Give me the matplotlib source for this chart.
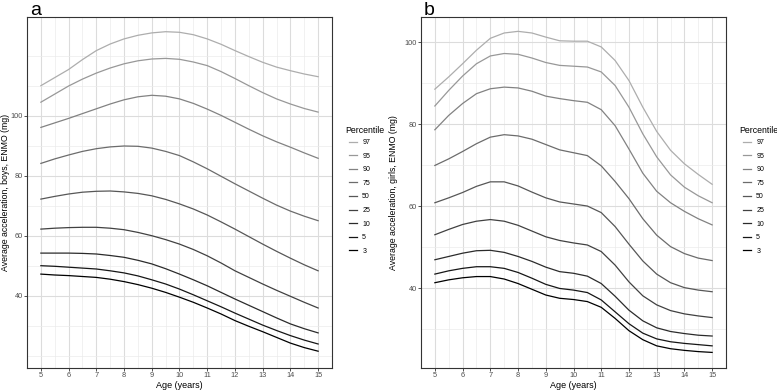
"""Boys / girls ENMO acceleration percentile curves by age (two panels)."""
import matplotlib

matplotlib.use("Agg")
import matplotlib.pyplot as plt
import numpy as np

plt.rcParams["font.family"] = ["Liberation Sans", "DejaVu Sans"]

AGE = [5.0, 5.5, 6.0, 6.5, 7.0, 7.5, 8.0, 8.5, 9.0, 9.5, 10.0,
       10.5, 11.0, 11.5, 12.0, 12.5, 13.0, 13.5, 14.0, 14.5, 15.0]

PERCENTILES = [97, 95, 90, 75, 50, 25, 10, 5, 3]

# Boys, average acceleration ENMO (mg)
BOYS_P97 = [110.1, 112.8, 115.5, 118.8, 121.8, 124.0, 125.7, 126.9, 127.7, 128.1, 127.9,
            127.1, 125.7, 123.9, 121.8, 119.8, 117.9, 116.3, 115.1, 114.0, 113.1]
BOYS_P95 = [104.6, 107.3, 110.0, 112.3, 114.3, 116.0, 117.4, 118.4, 119.0, 119.2, 118.9,
            118.0, 116.8, 114.8, 112.5, 110.1, 107.8, 105.7, 104.0, 102.5, 101.3]
BOYS_P90 = [96.2, 97.7, 99.2, 100.8, 102.4, 104.0, 105.4, 106.4, 106.9, 106.6, 105.7,
            104.2, 102.3, 100.2, 97.9, 95.6, 93.4, 91.4, 89.6, 87.7, 85.9]
BOYS_P75 = [84.2, 85.7, 87.0, 88.2, 89.1, 89.7, 90.0, 89.9, 89.3, 88.2, 86.8,
            84.7, 82.4, 79.9, 77.4, 75.0, 72.6, 70.3, 68.3, 66.6, 65.1]
BOYS_P50 = [72.3, 73.2, 74.0, 74.6, 74.9, 75.0, 74.7, 74.2, 73.4, 72.2, 70.7,
            69.0, 67.0, 64.7, 62.3, 59.8, 57.3, 54.9, 52.6, 50.4, 48.4]
BOYS_P25 = [62.3, 62.6, 62.8, 62.9, 62.9, 62.6, 62.1, 61.2, 60.1, 58.8, 57.3,
            55.5, 53.4, 51.0, 48.4, 46.2, 44.0, 41.9, 39.9, 37.9, 36.0]
BOYS_P10 = [54.3, 54.3, 54.3, 54.2, 54.0, 53.5, 52.9, 51.9, 50.7, 49.1, 47.3,
            45.4, 43.4, 41.2, 39.0, 36.9, 34.8, 32.7, 30.7, 29.1, 27.7]
BOYS_P5 = [50.1, 49.9, 49.6, 49.3, 49.0, 48.4, 47.7, 46.7, 45.4, 44.0, 42.3,
           40.4, 38.4, 36.4, 34.3, 32.3, 30.3, 28.5, 26.8, 25.3, 24.0]
BOYS_P3 = [47.3, 47.0, 46.8, 46.5, 46.2, 45.6, 44.8, 43.8, 42.6, 41.2, 39.6,
           37.9, 36.0, 34.0, 31.8, 29.9, 28.1, 26.2, 24.3, 22.8, 21.6]

# Girls, average acceleration ENMO (mg)
GIRLS_P97 = [88.5, 91.5, 94.7, 98.0, 100.9, 102.2, 102.6, 102.2, 101.2, 100.3, 100.2,
             100.2, 98.8, 95.5, 90.6, 84.1, 78.2, 73.6, 70.3, 67.7, 65.3]
GIRLS_P95 = [84.4, 88.2, 91.7, 94.7, 96.6, 97.2, 97.0, 96.1, 95.0, 94.3, 94.1,
             93.9, 92.7, 89.4, 84.1, 77.6, 72.0, 67.6, 64.6, 62.5, 60.8]
GIRLS_P90 = [78.6, 82.1, 85.0, 87.4, 88.6, 89.0, 88.8, 88.0, 86.8, 86.2, 85.7,
             85.3, 83.5, 79.6, 73.9, 68.0, 63.6, 60.8, 58.7, 56.9, 55.4]
GIRLS_P75 = [69.9, 71.5, 73.3, 75.2, 76.8, 77.4, 77.1, 76.3, 75.0, 73.7, 73.0,
             72.3, 69.8, 66.0, 61.8, 56.9, 52.9, 50.1, 48.4, 47.3, 46.7]
GIRLS_P50 = [60.8, 62.0, 63.3, 64.8, 65.9, 65.9, 64.9, 63.4, 62.0, 61.0, 60.5,
             60.0, 58.4, 55.0, 50.7, 46.6, 43.4, 41.3, 40.1, 39.5, 39.1]
GIRLS_P25 = [53.0, 54.3, 55.5, 56.3, 56.7, 56.3, 55.3, 53.9, 52.5, 51.6, 51.0,
             50.5, 48.9, 45.6, 41.5, 38.1, 35.9, 34.5, 33.7, 33.2, 32.8]
GIRLS_P10 = [46.9, 47.7, 48.5, 49.1, 49.2, 48.7, 47.7, 46.5, 45.1, 44.0, 43.6,
             42.9, 41.1, 38.0, 34.6, 32.0, 30.3, 29.4, 28.9, 28.5, 28.3]
GIRLS_P5 = [43.4, 44.2, 44.8, 45.2, 45.2, 44.8, 43.8, 42.4, 40.9, 39.9, 39.5,
            38.9, 37.1, 34.2, 31.3, 29.0, 27.6, 26.9, 26.5, 26.2, 25.9]
GIRLS_P3 = [41.3, 42.0, 42.5, 42.8, 42.8, 42.2, 41.1, 39.7, 38.3, 37.5, 37.2,
            36.7, 35.3, 32.6, 29.6, 27.4, 25.9, 25.2, 24.8, 24.5, 24.3]

BOYS = [BOYS_P97, BOYS_P95, BOYS_P90, BOYS_P75, BOYS_P50,
        BOYS_P25, BOYS_P10, BOYS_P5, BOYS_P3]
GIRLS = [GIRLS_P97, GIRLS_P95, GIRLS_P90, GIRLS_P75, GIRLS_P50,
         GIRLS_P25, GIRLS_P10, GIRLS_P5, GIRLS_P3]

X_TICKS = list(range(5, 16))
Y_TICKS = [40, 60, 80, 100]

# light grey for 97th down to black for 3rd
GREYS = [str(g) for g in np.linspace(0.68, 0.0, len(PERCENTILES))]


def draw_panel(fig, rect, curves, ylim, ylabel, letter, ylabel_x, legend_x):
    ax = fig.add_axes(rect)
    for spine in ax.spines.values():
        spine.set_color("#333333")
        spine.set_linewidth(0.8)

    # ggplot-like grid: minor lines every half year / 10 mg, majors on top
    ax.set_xticks(np.arange(4.5, 15.51, 0.5), minor=True)
    ax.set_yticks(np.arange(20, 121, 10), minor=True)
    ax.grid(which="minor", color="#ebebeb", linewidth=0.5)
    ax.grid(which="major", color="#dcdcdc", linewidth=0.8)
    ax.set_axisbelow(True)

    handles = []
    for pct, vals, col in zip(PERCENTILES, curves, GREYS):
        (ln,) = ax.plot(AGE, vals, color=col, linewidth=0.9, label=str(pct))
        handles.append(ln)

    ax.set_xlim(4.5, 15.5)
    ax.set_ylim(*ylim)
    ax.set_xticks(X_TICKS)
    ax.set_yticks(Y_TICKS)
    ax.tick_params(which="major", length=2.2, width=0.6, color="#333333",
                   labelsize=5.3, labelcolor="#4d4d4d", pad=0.8)
    ax.tick_params(which="minor", length=0)
    ax.set_xlabel("Age (years)", fontsize=6.5, labelpad=1.5)
    fig.text(ylabel_x, rect[1] + rect[3] / 2, ylabel, rotation=90,
             ha="center", va="center", fontsize=6.3)
    fig.text(rect[0] + 0.004, 0.972, letter, fontsize=14, ha="left", va="center")

    # legend: title as plain text, keys slightly indented like ggplot
    fig.text(legend_x, 1 - 131 / 390, "Percentile", fontsize=6.3,
             ha="left", va="center")
    ax.legend(handles=handles, loc="upper left",
              bbox_to_anchor=(legend_x + 4 / 777, 1 - 139 / 390),
              bbox_transform=fig.transFigure,
              frameon=False, fontsize=5, handlelength=1.2, handletextpad=0.7,
              labelspacing=0.95, borderpad=0, borderaxespad=0)
    return ax


fig = plt.figure(figsize=(7.77, 3.90), dpi=100)
draw_panel(fig, [27 / 777, 22 / 390, 305 / 777, 351 / 390], BOYS, (16.0, 133.0),
           "Average acceleration, boys, ENMO (mg)", "a", 5.5 / 777, 345 / 777)
draw_panel(fig, [421 / 777, 22 / 390, 305 / 777, 351 / 390], GIRLS, (20.5, 106.1),
           "Average acceleration, girls, ENMO (mg)", "b", 393 / 777, 739 / 777)

fig.savefig("out.png", dpi=100)
